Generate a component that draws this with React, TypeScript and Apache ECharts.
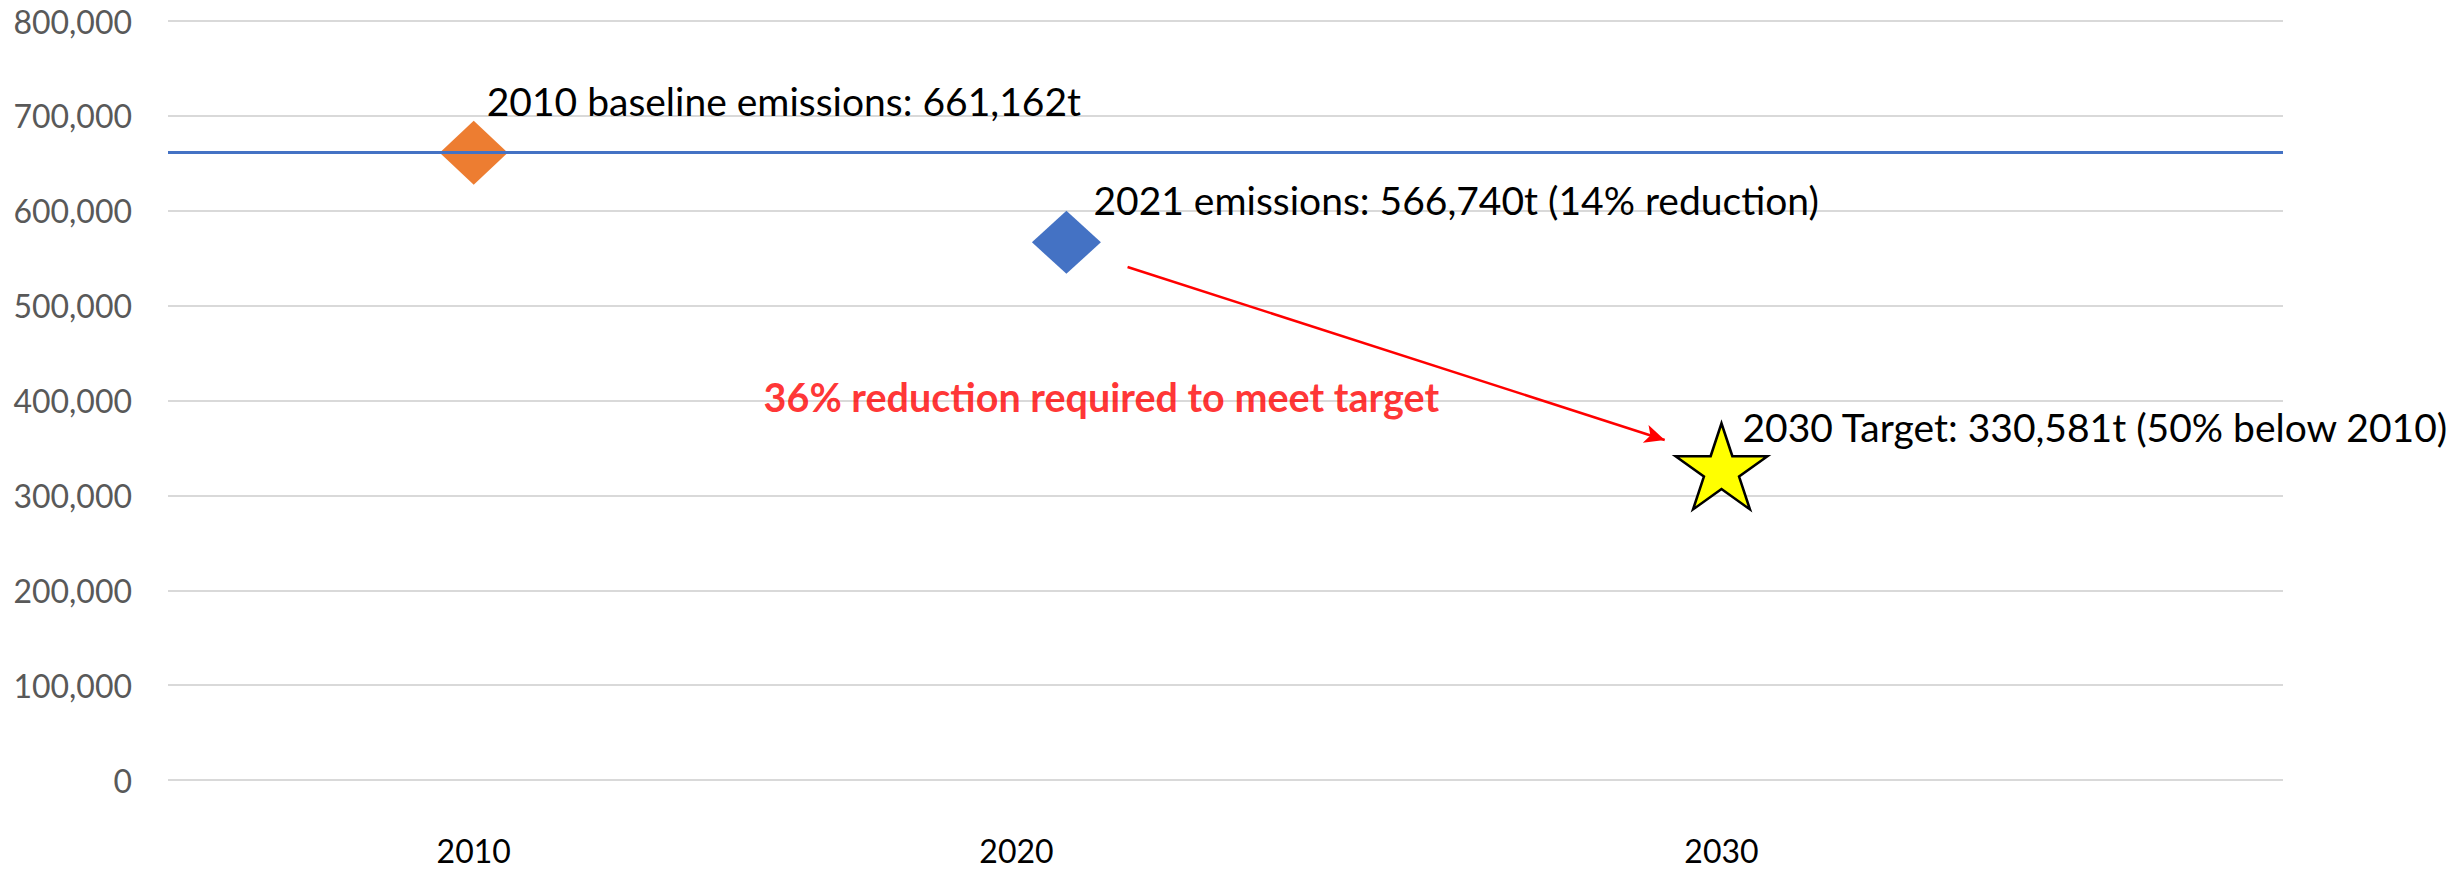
import React, { useEffect, useRef } from "react";
import * as echarts from "echarts";

// ---- data ----
const yTickValues = [0, 100000, 200000, 300000, 400000, 500000, 600000, 700000, 800000];
const xTickLabels = ["2010", "2020", "2030"];
const xTickValues = [2010, 2018.7, 2030];

const baselinePoint = [2010, 661162];
const currentPoint = [2019.5, 566740];
const targetPoint = [2030, 330581];
const baselineValue = 661162;

const baselineLabel = "2010 baseline emissions: 661,162t";
const currentLabel = "2021 emissions: 566,740t (14% reduction)";
const targetLabel = "2030 Target: 330,581t (50% below 2010)";

const arrowStart = [2020.48, 540700];
const arrowEnd = [2029.09, 358400];
const noteLabel = "36% reduction required to meet target";
const notePoint = [2020.06, 403700];

const STAR =
  "path://M50 0 L61.23 34.55 L97.55 34.55 L68.16 55.9 L79.39 90.45 L50 69.1 L20.61 90.45 L31.84 55.9 L2.45 34.55 L38.77 34.55 Z";

const FONT = "Lato, 'Open Sans', sans-serif";

export default function App() {
  const ref = useRef<HTMLDivElement>(null);

  useEffect(() => {
    document.body.style.margin = "0";
    if (!ref.current) return;
    const chart = echarts.init(ref.current, null, { renderer: "svg" });

    const annLabel = (text: string, dx: number, dy: number) => ({
      show: true,
      position: "inside",
      align: "left",
      verticalAlign: "middle",
      offset: [dx, dy],
      formatter: () => text,
      color: "#000000",
      fontSize: 39,
      fontFamily: FONT,
    });

    chart.setOption({
      animation: false,
      backgroundColor: "#ffffff",
      textStyle: { fontFamily: FONT },
      grid: {
        left: 168,
        right: 180,
        top: 21,
        bottom: 89,
        containLabel: false,
        outerBoundsMode: "none",
      },
      xAxis: {
        type: "value",
        min: 2005.1,
        max: 2039,
        axisLine: { show: false },
        axisTick: { show: false },
        splitLine: { show: false },
        axisLabel: {
          customValues: xTickValues,
          formatter: (v: number) => {
            let best = 0;
            xTickValues.forEach((t, i) => {
              if (Math.abs(t - v) < Math.abs(xTickValues[best] - v)) best = i;
            });
            return xTickLabels[best];
          },
          color: "#000000",
          fontSize: 32,
          fontFamily: FONT,
          margin: 54,
        },
      },
      yAxis: {
        type: "value",
        min: yTickValues[0],
        max: yTickValues[yTickValues.length - 1],
        interval: 100000,
        axisLine: { show: false },
        axisTick: { show: false },
        splitLine: { show: true, lineStyle: { color: "#D9D9D9", width: 2 } },
        axisLabel: {
          formatter: (v: number) => v.toLocaleString("en-US"),
          color: "#595959",
          fontSize: 32,
          fontFamily: FONT,
          margin: 36,
        },
      },
      series: [
        {
          name: "baselineLine",
          type: "line",
          data: [],
          z: 1,
          markLine: {
            silent: true,
            symbol: ["none", "none"],
            label: { show: false },
            lineStyle: { color: "#4472C4", width: 3, type: "solid" },
            data: [{ yAxis: baselineValue }],
          },
        },
        {
          name: "arrow",
          type: "line",
          data: [],
          z: 2,
          markLine: {
            silent: true,
            symbol: ["none", "arrow"],
            symbolSize: [14, 20],
            label: { show: false },
            lineStyle: { color: "#FF0000", width: 2.5, type: "solid" },
            data: [[{ coord: arrowStart }, { coord: arrowEnd }]],
          },
        },
        {
          name: "baseline",
          type: "scatter",
          z: 3,
          symbol: "diamond",
          symbolSize: [68, 64],
          itemStyle: { color: "#ED7D31", opacity: 1 },
          data: [baselinePoint],
          label: annLabel(baselineLabel, 13, -52),
        },
        {
          name: "current",
          type: "scatter",
          z: 3,
          symbol: "diamond",
          symbolSize: [69, 63],
          itemStyle: { color: "#4472C4", opacity: 1 },
          data: [currentPoint],
          label: annLabel(currentLabel, 27, -42),
        },
        {
          name: "target",
          type: "scatter",
          z: 3,
          symbol: STAR,
          symbolSize: [92, 86],
          itemStyle: { color: "#FFFF00", borderColor: "#000000", borderWidth: 2.5, opacity: 1 },
          data: [targetPoint],
          label: annLabel(targetLabel, 21, -39),
        },
        {
          name: "note",
          type: "scatter",
          z: 4,
          symbolSize: 1,
          itemStyle: { color: "rgba(0,0,0,0)" },
          data: [notePoint],
          label: {
            show: true,
            position: "inside",
            align: "center",
            verticalAlign: "middle",
            formatter: () => noteLabel,
            color: "#FF0000",
            fontSize: 39.5,
            fontWeight: "bold",
            fontFamily: FONT,
          },
        },
      ],
    });

    return () => chart.dispose();
  }, []);

  return <div ref={ref} style={{ width: 2463, height: 869 }} />;
}
